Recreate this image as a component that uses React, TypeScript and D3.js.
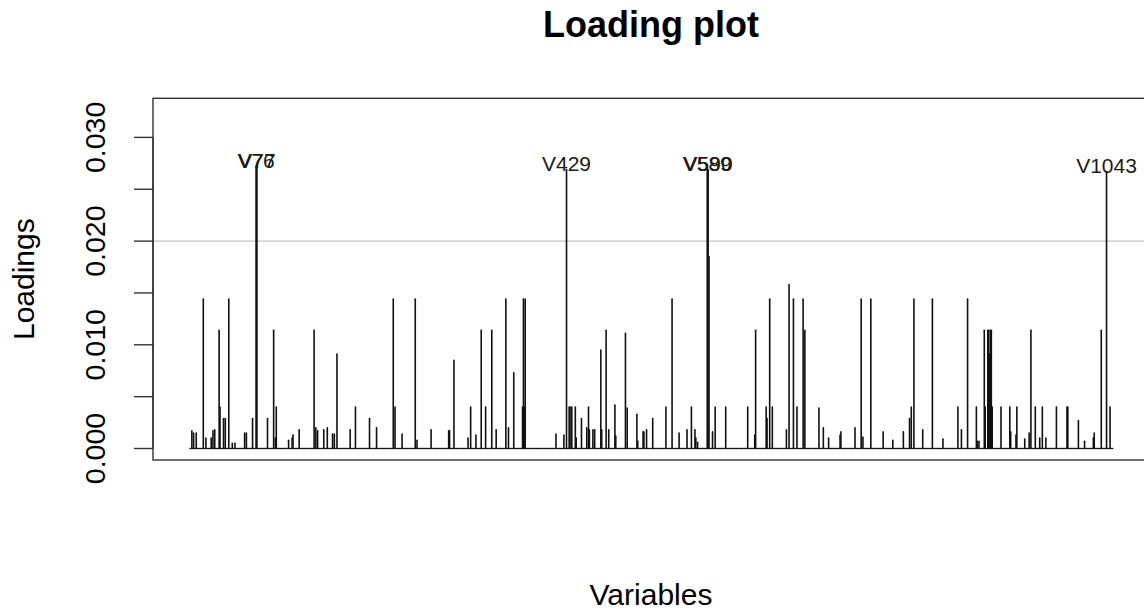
import React from "react";
import * as d3 from "d3";

// Number of variables (V1 ... V1050)
const varCount = 1050;

// Variables with a visible loading (1-based index) and their loadings
const peakVars = [
  3, 5, 8, 16, 19, 25, 27, 29, 34, 35, 39, 41, 45, 49, 52, 63, 65, 72, 76, 77,
  89, 96, 98, 99, 113, 117, 118, 125, 142, 144, 146, 153, 157, 163, 165, 168,
  183, 189, 205, 213, 232, 234, 242, 257, 259, 275, 295, 296, 301, 317, 320,
  326, 332, 337, 344, 349, 360, 363, 369, 379, 380, 381, 382,
  417, 426, 429, 432, 433, 435, 439, 440, 446, 452, 454, 455, 459, 461, 468,
  469, 474, 477, 484, 485, 496, 498, 509, 510, 516, 517, 520, 527, 542, 549,
  557, 566, 571, 575, 576, 578, 589, 590, 591, 595, 598, 610, 635, 643, 644,
  656, 657, 660, 663, 679, 682, 687, 691, 698, 700, 716, 721, 727, 740, 741,
  757, 764, 766, 775, 789, 800, 812, 819, 821, 824, 834, 845,
  857, 874, 878, 885, 895, 896, 898, 904, 905, 908, 909, 910, 911, 912, 913,
  923, 933, 934, 940, 941, 950, 955, 957, 962, 967, 970, 974, 986, 998, 999,
  1011, 1018, 1028, 1029, 1037, 1043, 1047,
];

const peakLoadings = [
  0.0017, 0.0015, 0.0015, 0.0144, 0.001, 0.001, 0.0017, 0.0018, 0.0114, 0.004,
  0.0029, 0.0029, 0.0144, 0.0005, 0.0005, 0.0015, 0.0015, 0.0029, 0.0272, 0.0272,
  0.0029, 0.0114, 0.001, 0.004, 0.0008, 0.001, 0.0013, 0.0018, 0.0114, 0.002,
  0.0017, 0.0018, 0.002, 0.0014, 0.0014, 0.0091,
  0.0018, 0.004, 0.0029, 0.002, 0.0144, 0.004, 0.0014, 0.0144, 0.0008, 0.0018,
  0.0017, 0.0017, 0.0085, 0.001, 0.004,
  0.0013, 0.0114, 0.004, 0.0114, 0.0018, 0.0144, 0.002, 0.0073, 0.004, 0.0144,
  0.004, 0.0144,
  0.0014, 0.0013, 0.0269, 0.004, 0.004, 0.004, 0.004, 0.001, 0.0029, 0.002,
  0.004, 0.0018, 0.0018, 0.0018, 0.0095,
  0.0018, 0.0114, 0.0018, 0.0042, 0.0012, 0.0111, 0.0039, 0.0033, 0.0007,
  0.0016, 0.0016, 0.0018, 0.0029, 0.004, 0.0144,
  0.0015, 0.0018, 0.004, 0.0018, 0.001, 0.0006, 0.0269, 0.0269, 0.0185, 0.0016,
  0.004, 0.004, 0.004, 0.0013, 0.0114,
  0.004, 0.0029, 0.0144, 0.004, 0.0018, 0.0158, 0.0144, 0.004, 0.0144, 0.0114,
  0.0039, 0.002, 0.001, 0.0013, 0.0016,
  0.002, 0.0144, 0.0011, 0.0144, 0.0016, 0.0008, 0.0016, 0.0029, 0.004, 0.0144,
  0.0018, 0.0144,
  0.0009, 0.004, 0.0018, 0.0144, 0.004, 0.0007, 0.0007, 0.0114, 0.004, 0.0114,
  0.0114, 0.0091, 0.0114, 0.0114, 0.004,
  0.004, 0.004, 0.0016, 0.0013, 0.004, 0.0009, 0.0015, 0.0114, 0.004, 0.001,
  0.004, 0.001, 0.004, 0.004, 0.004,
  0.0027, 0.0007, 0.001, 0.0015, 0.0114, 0.0267, 0.004,
];

// Variables whose loading exceeds the cut-off and get a name tag
const labelledVars = [76, 77, 429, 589, 590, 1043];

const cutoff = 0.02;
const yTicks = [0, 0.005, 0.01, 0.015, 0.02, 0.025, 0.03];
const yTickLabels = ["0.000", "", "0.010", "", "0.020", "", "0.030"];

const WIDTH = 1144;
const HEIGHT = 612;

export default function App() {
  const loadingByVar = new Map<number, number>();
  peakVars.forEach((v, k) => loadingByVar.set(v, peakLoadings[k]));
  const allVars = d3.range(1, varCount + 1);

  const x = d3.scaleLinear().domain([1, varCount]).range([190.1, 1112.7]);
  const y = d3.scaleLinear().domain([0, 0.03]).range([448.5, 137.4]);

  const boxLeft = 153;
  const boxRight = 1149.5;
  const boxTop = 98.3;
  const boxBottom = 460;
  const font = "'Liberation Sans', Arial, Helvetica, sans-serif";

  return (
    <svg
      width={WIDTH}
      height={HEIGHT}
      style={{ position: "absolute", left: 0, top: 0, background: "#fff" }}
      fontFamily={font}
    >
      <text x={651} y={37} textAnchor="middle" fontSize={36} fontWeight="bold" fill="#000">
        Loading plot
      </text>

      {/* cut-off line */}
      <line x1={boxLeft} x2={boxRight} y1={y(cutoff)} y2={y(cutoff)} stroke="#c4c4c4" strokeWidth={1.1} />

      {/* loadings as vertical lines (type "h"), round caps give the dotted baseline */}
      <g stroke="#111" strokeWidth={1.6} strokeLinecap="round">
        {allVars.map((v) => {
          const val = loadingByVar.get(v) ?? 0;
          return <path key={v} d={`M${x(v)},${y(0)}L${x(v)},${y(val)}`} />;
        })}
      </g>

      {/* variable names above the strongest loadings */}
      <g fontSize={21} textAnchor="middle" fill="#1a1a1a">
        {labelledVars.map((v) => (
          <text key={v} x={x(v)} y={y(loadingByVar.get(v) ?? 0) + 1.5}>
            {`V${v}`}
          </text>
        ))}
      </g>

      {/* frame */}
      <rect
        x={boxLeft}
        y={boxTop}
        width={boxRight - boxLeft}
        height={boxBottom - boxTop}
        fill="none"
        stroke="#333"
        strokeWidth={1.4}
      />

      {/* y axis */}
      <g stroke="#333" strokeWidth={1.4}>
        <line x1={boxLeft} x2={boxLeft} y1={y(0)} y2={y(0.03)} />
        {yTicks.map((t) => (
          <line key={t} x1={boxLeft - 19} x2={boxLeft} y1={y(t)} y2={y(t)} />
        ))}
      </g>
      <g fontSize={28.5} textAnchor="middle" fill="#000">
        {yTicks.map((t, k) =>
          yTickLabels[k] ? (
            <text key={t} transform={`translate(105,${y(t)}) rotate(-90)`}>
              {yTickLabels[k]}
            </text>
          ) : null
        )}
      </g>

      <text transform={`translate(34,${(boxTop + boxBottom) / 2}) rotate(-90)`} textAnchor="middle" fontSize={30} fill="#000">
        Loadings
      </text>
      <text x={651} y={605} textAnchor="middle" fontSize={30} fill="#000">
        Variables
      </text>
    </svg>
  );
}
